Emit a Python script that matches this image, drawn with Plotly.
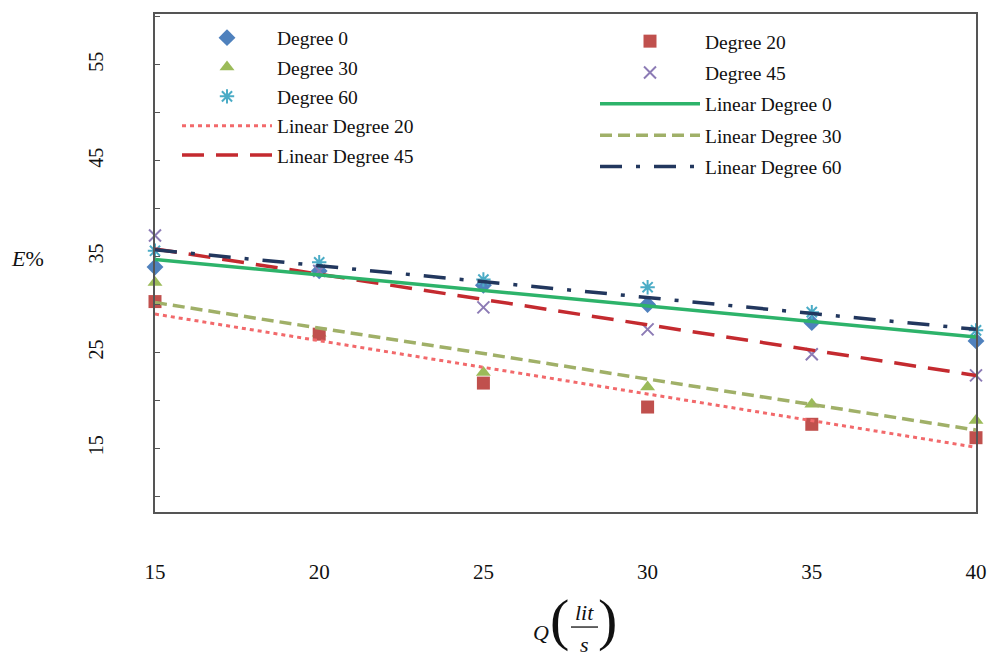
import plotly.graph_objects as go

# ---- data ----
Q = [15, 20, 25, 30, 35, 40]
deg0 = [33.9, 33.5, 32.0, 30.0, 28.1, 26.2]
deg20 = [30.3, 26.9, 21.8, 19.3, 17.5, 16.1]
deg30 = [32.3, 27.0, 22.9, 21.4, 19.6, 17.9]
deg45 = [37.2, 33.5, 29.7, 27.4, 24.8, 22.6]
deg60 = [35.6, 34.4, 32.6, 31.8, 29.2, 27.3]

Q_fit = [15, 40]
lin0 = [34.7, 26.6]
lin20 = [29.0, 15.1]
lin30 = [30.2, 16.9]
lin45 = [35.8, 22.6]
lin60 = [35.7, 27.4]

x_ticks = [15, 20, 25, 30, 35, 40]
y_ticks = [15, 25, 35, 45, 55]

SERIF = "Liberation Serif"
TXT = "#111111"

fig = go.Figure()

def mk(name, y, symbol, color, size, legend, line=None):
    m = dict(symbol=symbol, color=color, size=size)
    if line:
        m["line"] = line
    fig.add_trace(go.Scatter(x=Q, y=y, mode="markers", name=name, marker=m,
                             legend=legend, legendgroup=name, cliponaxis=False))

def ln(name, y, color, dash, width, legend):
    fig.add_trace(go.Scatter(x=Q_fit, y=y, mode="lines", name=name,
                             line=dict(color=color, dash=dash, width=width),
                             legend=legend, legendgroup=name))

# left legend column
mk("Degree 0", deg0, "diamond", "#4F81BD", 13, "legend")
mk("Degree 30", deg30, "triangle-up", "#9BBB59", 13, "legend")
mk("Degree 60", deg60, "asterisk-open", "#4BACC6", 12, "legend",
   line=dict(color="#4BACC6", width=2))
# right legend column
mk("Degree 20", deg20, "square", "#C0504D", 13, "legend2")
mk("Degree 45", deg45, "x-thin-open", "#8C7BB5", 12, "legend2",
   line=dict(color="#8C7BB5", width=2))

ln("Linear Degree 20", lin20, "#F2696B", "4px,4px", 3, "legend")
ln("Linear Degree 45", lin45, "#C42A2F", "22px,12px", 3.5, "legend")
ln("Linear Degree 0", lin0, "#2DB36A", "solid", 3.5, "legend2")
ln("Linear Degree 30", lin30, "#A0B068", "12px,6px", 3.5, "legend2")
ln("Linear Degree 60", lin60, "#22375E", "22px,14px,4px,14px", 3.5, "legend2")

fig.update_xaxes(
    range=[15, 40], tickvals=x_ticks, ticktext=[str(v) for v in x_ticks],
    showgrid=False, zeroline=False, showline=True, mirror=True, automargin=False,
    linecolor="#555555", linewidth=2, ticks="", ticklabelstandoff=40,
    ticklabeloverflow="allow",
    tickfont=dict(family=SERIF, size=21, color=TXT),
)
fig.update_yaxes(
    range=[8.35, 60.3], tickvals=y_ticks, ticktext=[str(v) for v in y_ticks],
    showgrid=False, zeroline=False, showline=True, mirror=True, automargin=False,
    linecolor="#555555", linewidth=2, ticks="inside", ticklen=5,
    tickcolor="#555555", tickangle=-90, ticklabelstandoff=42,
    minor=dict(ticks="inside", dtick=5, tick0=10, ticklen=5, tickcolor="#555555"),
    tickfont=dict(family=SERIF, size=20, color=TXT),
)

legend_common = dict(bgcolor="rgba(0,0,0,0)", font=dict(family=SERIF, size=19.5, color=TXT),
                     yanchor="top", xanchor="left")

def ann(text, x, y, size):
    return dict(text=text, xref="paper", yref="paper", x=x, y=y,
                xanchor="center", yanchor="middle", showarrow=False,
                font=dict(family=SERIF, size=size, color=TXT))

# plot area: left 155 px, width 821 px
W = 821.0
def px(v):
    return (v - 155) / W

fig.update_layout(
    width=988, height=659,
    margin=dict(l=155, r=12, t=14, b=147),
    paper_bgcolor="white", plot_bgcolor="white",
    legend=dict(x=px(177), y=0.991, itemwidth=90, tracegroupgap=1, **legend_common),
    legend2=dict(x=px(595), y=0.984, itemwidth=100, tracegroupgap=3, **legend_common),
    annotations=[
        ann("<i>E</i>%", px(27), 0.51, 22),
        ann("<i>Q</i>", px(541), -0.241, 22),
        ann("(", px(559), -0.216, 58),
        ann("<i>lit</i>", px(584), -0.201, 22),
        ann("<i>s</i>", px(584), -0.267, 22),
        ann(")", px(607), -0.216, 58),
    ],
    shapes=[
        dict(type="line", xref="paper", yref="paper", x0=px(571), x1=px(598),
             y0=-0.231, y1=-0.231, line=dict(color=TXT, width=1.3)),
    ],
)

fig.write_html("out.html", config={"displayModeBar": False},
               post_script="document.body.style.margin='0';document.body.style.overflow='hidden';")
